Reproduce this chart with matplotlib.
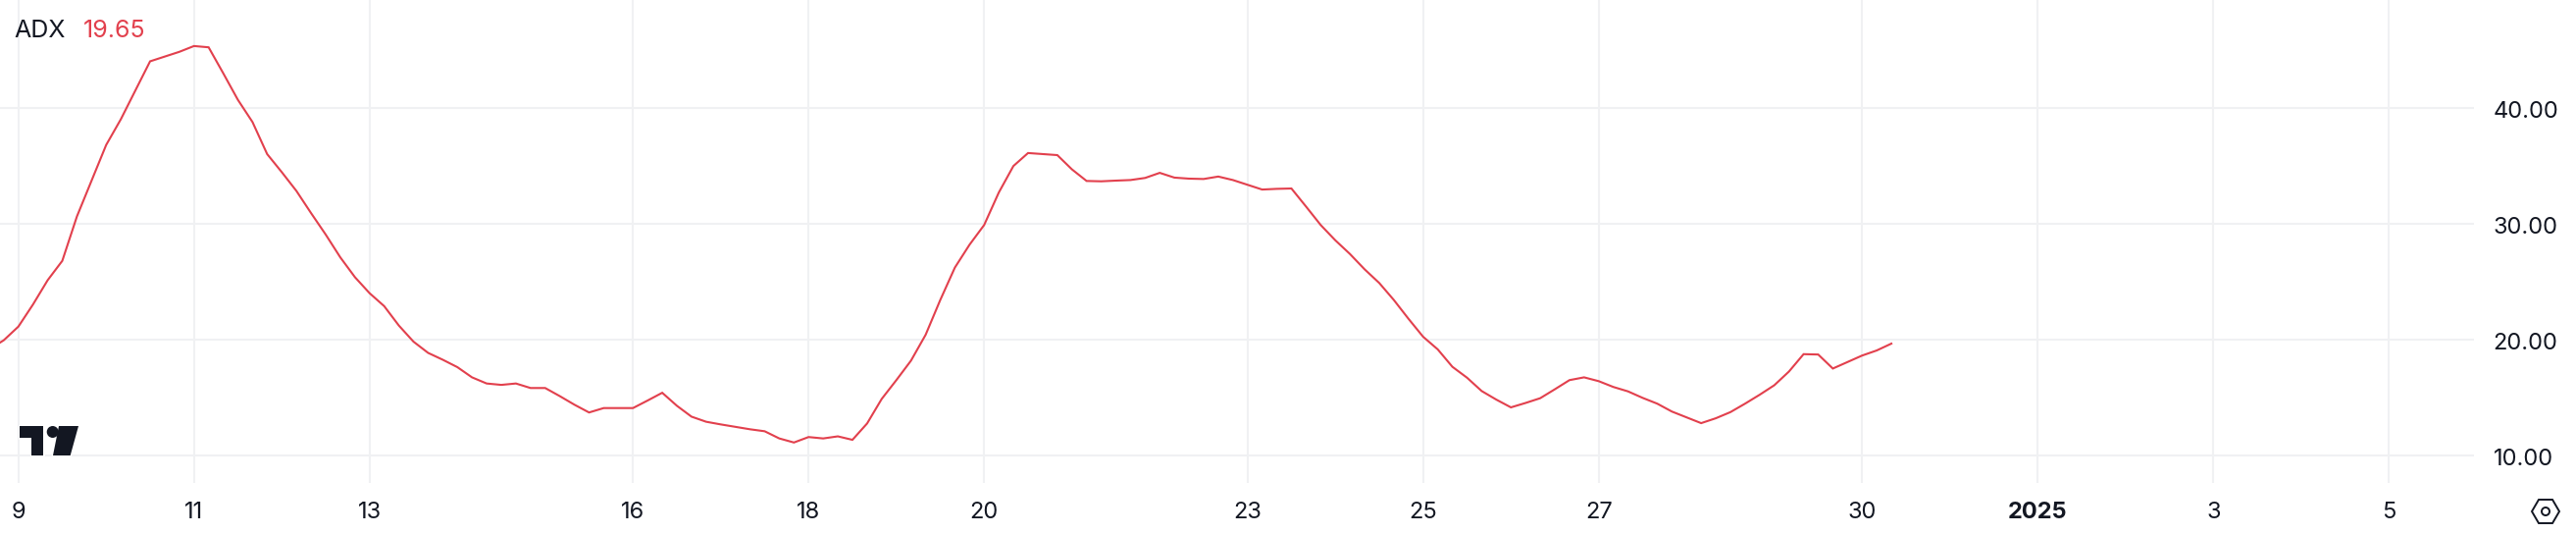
import matplotlib
matplotlib.use('Agg')
import matplotlib.pyplot as plt
import matplotlib.dates as mdates
from matplotlib.patches import Polygon, Circle
from matplotlib.transforms import ScaledTranslation
import pandas as pd

plt.rcParams['font.family'] = ['Inter', 'DejaVu Sans']

# ADX readings, one every 4 hours
adx = [19.15, 19.94, 21.12, 23.03, 25.12, 26.79, 30.62, 33.71, 36.79, 39.0, 41.5, 44.0,
       44.41, 44.82, 45.32, 45.21, 42.97, 40.68, 38.76, 36.0, 34.44, 32.82, 30.91, 29.06,
       27.09, 25.38, 24.0, 22.88, 21.21, 19.82, 18.85, 18.26, 17.62, 16.74, 16.21, 16.09,
       16.21, 15.82, 15.82, 15.12, 14.38, 13.71, 14.09, 14.09, 14.09, 14.74, 15.41, 14.29,
       13.35, 12.91, 12.68, 12.47, 12.26, 12.09, 11.47, 11.12, 11.59, 11.47, 11.65, 11.35,
       12.76, 14.88, 16.5, 18.18, 20.41, 23.41, 26.21, 28.18, 29.88, 32.68, 34.97, 36.09,
       36.0, 35.91, 34.68, 33.68, 33.65, 33.71, 33.76, 33.94, 34.38, 33.97, 33.88, 33.85,
       34.06, 33.76, 33.35, 32.94, 33.0, 33.03, 31.47, 29.88, 28.56, 27.38, 26.06,
       24.88, 23.41, 21.79, 20.24, 19.15, 17.65, 16.71, 15.56, 14.82, 14.15, 14.53, 14.94,
       15.71, 16.5, 16.74, 16.41, 15.91, 15.53, 14.97, 14.47, 13.79, 13.29, 12.79, 13.21,
       13.74, 14.47, 15.24, 16.06, 17.24, 18.74, 18.71, 17.5, 18.06, 18.62, 19.06, 19.65]
times = pd.date_range('2024-12-08 16:00', periods=len(adx), freq='4h')

tick_dates = ['2024-12-09', '2024-12-11', '2024-12-13', '2024-12-16', '2024-12-18', '2024-12-20',
              '2024-12-23', '2024-12-25', '2024-12-27', '2024-12-30', '2025-01-01', '2025-01-03',
              '2025-01-05']
tick_labels = ['9', '11', '13', '16', '18', '20', '23', '25', '27', '30', '2025', '3', '5']
y_ticks = [10, 20, 30, 40]

W, H = 2626, 544
RIGHT, BOTTOM = 2522, 492
TEXT = '#131722'
RED = '#e2404d'
GRID = '#f0f1f3'

fig = plt.figure(figsize=(W / 100, H / 100), dpi=100, facecolor='white')
ax = fig.add_axes([0, (H - BOTTOM) / H, RIGHT / W, BOTTOM / H])

ax.plot(times, adx, color=RED, lw=1.5, solid_joinstyle='miter', zorder=3)

d0 = mdates.date2num(pd.Timestamp('2024-12-09'))
ax.set_xlim(d0 - 18.75 / 89.5, d0 + (RIGHT - 18.75) / 89.5)
ax.set_ylim(7.63, 49.29)

ax.set_xticks(pd.to_datetime(tick_dates))
ax.set_xticklabels(tick_labels)
ax.get_xticklabels()[10].set_fontweight('bold')
ax.set_yticks(y_ticks)
ax.set_yticklabels([f'{v:.2f}' for v in y_ticks])
ax.yaxis.tick_right()
ax.tick_params(axis='x', length=0, labelsize=17, labelcolor=TEXT, pad=14)
ax.tick_params(axis='y', length=0, labelsize=17, labelcolor=TEXT, pad=14)
ax.grid(True, color=GRID, lw=1.45)
ax.set_axisbelow(True)
for s in ax.spines.values():
    s.set_visible(False)

# y labels sit a little under their gridlines
down = ScaledTranslation(0, -1.5 / 100, fig.dpi_scale_trans)
for lab in ax.get_yticklabels():
    lab.set_transform(lab.get_transform() + down)

# overlay in pixel coordinates for legend text, logo and settings icon
ov = fig.add_axes([0, 0, 1, 1])
ov.set_xlim(0, W)
ov.set_ylim(H, 0)
ov.axis('off')
ov.patch.set_alpha(0)

ov.text(14, 32, 'ADX', color=TEXT, fontsize=18, va='center', ha='left')
ov.text(85, 32, f'{adx[-1]:.2f}', color=RED, fontsize=18, va='center', ha='left')

logo = '#131722'
t_pts = [(20, 434), (44.3, 434), (44.3, 464), (32.3, 464), (32.3, 446), (20, 446)]
slash_pts = [(60, 434), (80, 434), (71.7, 464), (54, 464)]
ov.add_patch(Polygon(t_pts, fc=logo, ec='white', lw=2, joinstyle='miter', zorder=5))
ov.add_patch(Polygon(slash_pts, fc=logo, ec='white', lw=2, zorder=5))
ov.add_patch(Polygon(t_pts, fc=logo, ec='none', zorder=6))
ov.add_patch(Polygon(slash_pts, fc=logo, ec='none', zorder=6))
ov.add_patch(Circle((53.7, 440), 6, fc=logo, ec='none', zorder=6))

# settings hexagon
ov.add_patch(Polygon([(2581, 521), (2588, 509), (2602, 509), (2609, 521), (2602, 533), (2588, 533)],
                     fc='none', ec=TEXT, lw=1.4))
ov.add_patch(Circle((2595, 521), 4, fc='none', ec=TEXT, lw=1.4))

fig.savefig('out.png', dpi=100, facecolor='white')
